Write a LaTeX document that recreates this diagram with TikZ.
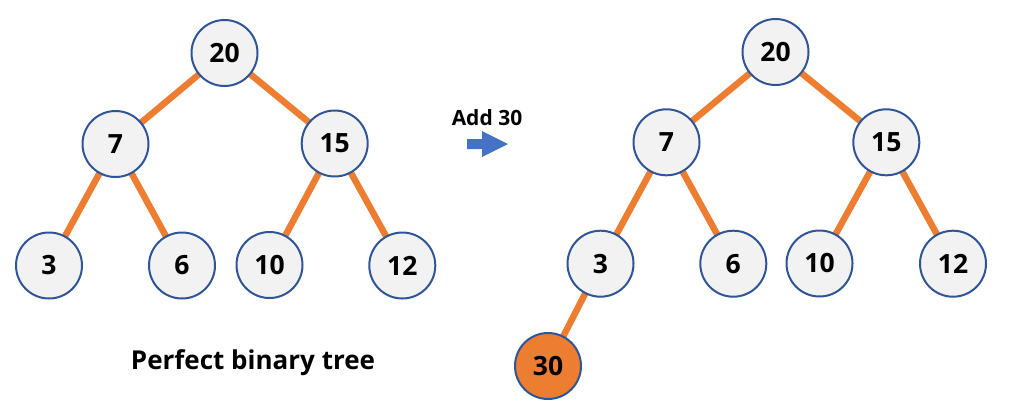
\documentclass[tikz,border=0pt]{standalone}
\usepackage{fontspec}
\setmainfont{Open Sans}
\usetikzlibrary{backgrounds}
\definecolor{edgeor}{HTML}{ED7D31}
\definecolor{nodefill}{HTML}{F2F2F2}
\definecolor{nodeline}{HTML}{2F5597}
\definecolor{arrowblue}{HTML}{4472C4}
\tikzset{
  vnode/.style={circle, draw=nodeline, line width=2pt, fill=nodefill, minimum size=66pt, inner sep=0pt, font=\fontsize{26.5}{26.5}\selectfont\bfseries},
  newnode/.style={vnode, fill=edgeor},
  tedge/.style={draw=edgeor, line width=6.5pt},
  lbl/.style={font=\fontsize{26}{26}\selectfont\bfseries, inner sep=0pt}
}
\begin{document}
\begin{tikzpicture}[x=1pt,y=-1pt]
\useasboundingbox (0,0) rectangle (1016,408);
% left tree
\node[vnode] (l20) at (224.5,53) {20};
\node[vnode] (l7) at (115.5,144) {7};
\node[vnode] (l15) at (334.7,143.5) {15};
\node[vnode] (l3) at (49,265.5) {3};
\node[vnode] (l6) at (182,265.5) {6};
\node[vnode] (l10) at (269.5,265) {10};
\node[vnode] (l12) at (402.3,265.5) {12};
% right tree
\node[vnode] (r20) at (775.5,52) {20};
\node[vnode] (r7) at (666.5,142.3) {7};
\node[vnode] (r15) at (886.3,142.3) {15};
\node[vnode] (r3) at (600.5,263.7) {3};
\node[vnode] (r6) at (733.3,263.7) {6};
\node[vnode] (r10) at (819.5,263.5) {10};
\node[vnode] (r12) at (953,263.7) {12};
\node[newnode] (r30) at (548,366) {30};
\begin{scope}[on background layer]
\draw[tedge] (l20.center) -- (l7.center);
\draw[tedge] (l20.center) -- (l15.center);
\draw[tedge] (l7.center) -- (l3.center);
\draw[tedge] (l7.center) -- (l6.center);
\draw[tedge] (l15.center) -- (l10.center);
\draw[tedge] (l15.center) -- (l12.center);
\draw[tedge] (r20.center) -- (r7.center);
\draw[tedge] (r20.center) -- (r15.center);
\draw[tedge] (r7.center) -- (r3.center);
\draw[tedge] (r7.center) -- (r6.center);
\draw[tedge] (r15.center) -- (r10.center);
\draw[tedge] (r15.center) -- (r12.center);
\draw[tedge] (r3.center) -- (r30.center);
\end{scope}
% labels
\node[lbl] (cap) at (253,363) {Perfect binary tree};
\node[lbl, font=\fontsize{21}{21}\selectfont\bfseries] (add) at (487,118) {Add 30};
\fill[arrowblue] (467,139) -- (482,139) -- (482,131) -- (508,144) -- (482,157) -- (482,149) -- (467,149) -- cycle;
\end{tikzpicture}
\end{document}
